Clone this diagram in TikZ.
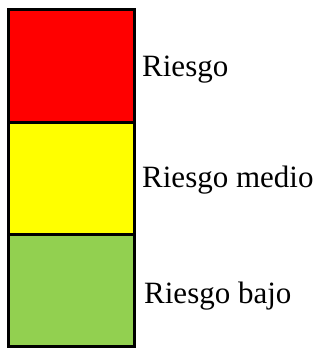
\documentclass[tikz,border=0pt]{standalone}
\usepackage{fontspec}
\setmainfont{Liberation Serif}
\usepackage{tikz}
\definecolor{RiskRed}{RGB}{255,0,0}
\definecolor{RiskYellow}{RGB}{255,255,0}
\definecolor{RiskGreen}{RGB}{146,208,80}
\begin{document}
\begin{tikzpicture}[x=1pt,y=1pt,
    level/.style={draw=black,line width=3pt,minimum width=126pt,inner sep=0pt,outer sep=0pt},
    tag/.style={anchor=base west,inner sep=0pt,font=\fontsize{31}{31}\selectfont}]
      \useasboundingbox (0,0) rectangle (324,350);
      \node[level,fill=RiskRed,minimum height=113pt] (alto) at (71.5,283.5) {};
      \node[level,fill=RiskYellow,minimum height=112pt] (medio) at (71.5,171) {};
      \node[level,fill=RiskGreen,minimum height=111.5pt] (bajo) at (71.5,59.25) {};
      \node[tag] (talto) at (142,273) {Riesgo};
      \node[tag] (tmedio) at (142,162) {Riesgo medio};
      \node[tag] (tbajo) at (144,46) {Riesgo bajo};
    \end{tikzpicture}
\end{document}
